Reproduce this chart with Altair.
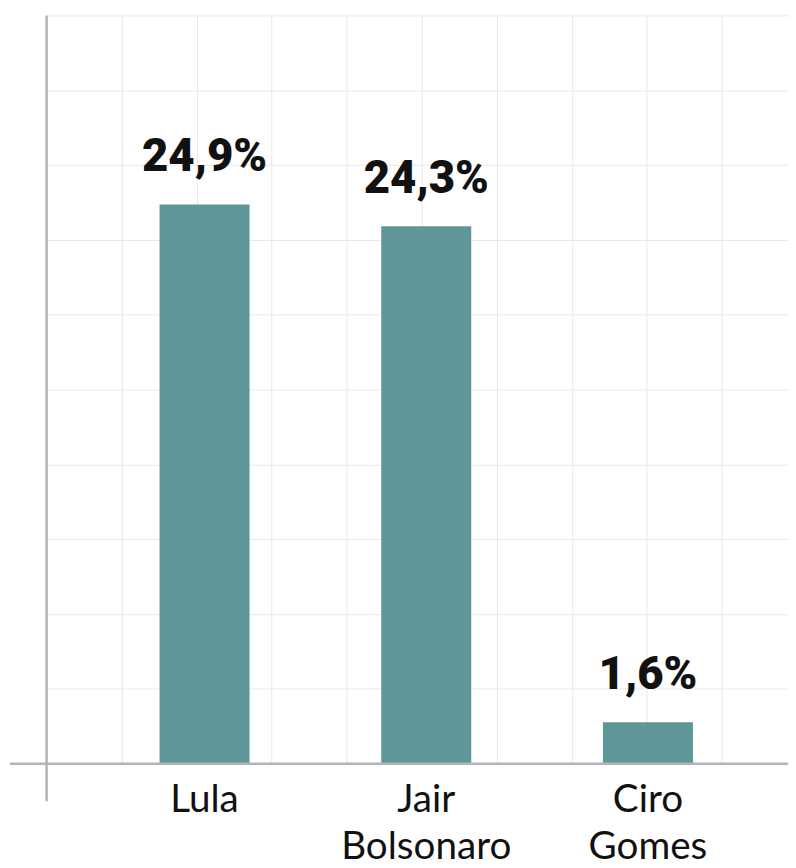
import altair as alt
import pandas as pd

# Data
candidates = ["Lula", "Jair Bolsonaro", "Ciro Gomes"]
bar_values = [24.9, 23.93, 1.85]          # bar heights as drawn
value_labels = ["24,9%", "24,3%", "1,6%"]  # printed labels

Y_MAX = 33.32
GRID_STEPS = 10
y_grid = [Y_MAX * k / GRID_STEPS for k in range(GRID_STEPS + 1)]
x_grid = list(range(10))

df = pd.DataFrame({"cand": candidates, "value": bar_values, "label": value_labels})

PLOT_W = 749
PLOT_H = 756

x_scale = alt.Scale(paddingInner=0.594, paddingOuter=0.469, align=0.543)
y_scale = alt.Scale(domain=[0, Y_MAX], nice=False)

base = alt.Chart(df).encode(
    x=alt.X("cand:N", sort=candidates, scale=x_scale,
            axis=alt.Axis(title=None, labelAngle=0, domain=False, ticks=False, tickSize=0,
                          labelPadding=17, grid=False, labelLimit=0,
                          labelFont="Lato", labelFontSize=39, labelColor="#111111",
                          labelLineHeight=48,
                          labelExpr="split(datum.label, ' ')")),
    y=alt.Y("value:Q", scale=y_scale,
            axis=alt.Axis(title=None, labels=False, ticks=False, domain=False,
                          values=y_grid, grid=True, gridColor="#e8e8e8", gridWidth=1)),
)

bars = base.mark_bar(color="#5f9798")

texts = base.mark_text(dy=-34, baseline="alphabetic", font="Roboto", fontWeight=900,
                       fontSize=46, color="#111111").encode(text="label:N")

axis_color = "#b3b3b8"
y_line = alt.Chart(pd.DataFrame({"a": [0]})).mark_rule(color=axis_color, strokeWidth=2.5).encode(
    x=alt.value(0), y=alt.value(0), y2=alt.value(794)
)
x_line = alt.Chart(pd.DataFrame({"a": [0]})).mark_rule(color=axis_color, strokeWidth=2.5).encode(
    x=alt.value(-37), x2=alt.value(PLOT_W), y=alt.value(PLOT_H)
)

main = alt.layer(bars, texts, y_line, x_line)

grid_x = alt.Chart(pd.DataFrame({"g": [0]})).mark_point(opacity=0).encode(
    x=alt.X("g:Q", scale=alt.Scale(domain=[0, 9.88], nice=False, zero=False),
            axis=alt.Axis(values=x_grid, grid=True, gridColor="#e8e8e8", gridWidth=1,
                          labels=False, ticks=False, domain=False, title=None, orient="top"))
)

chart = alt.layer(grid_x, main).resolve_scale(x="independent").properties(
    width=PLOT_W, height=PLOT_H,
    autosize=alt.AutoSizeParams(type="none"),
    padding={"left": 39, "top": 3, "right": 0, "bottom": 110},
    background="white",
).configure_view(stroke=None)

chart.save("out.html", embed_options={"renderer": "svg", "actions": False})
